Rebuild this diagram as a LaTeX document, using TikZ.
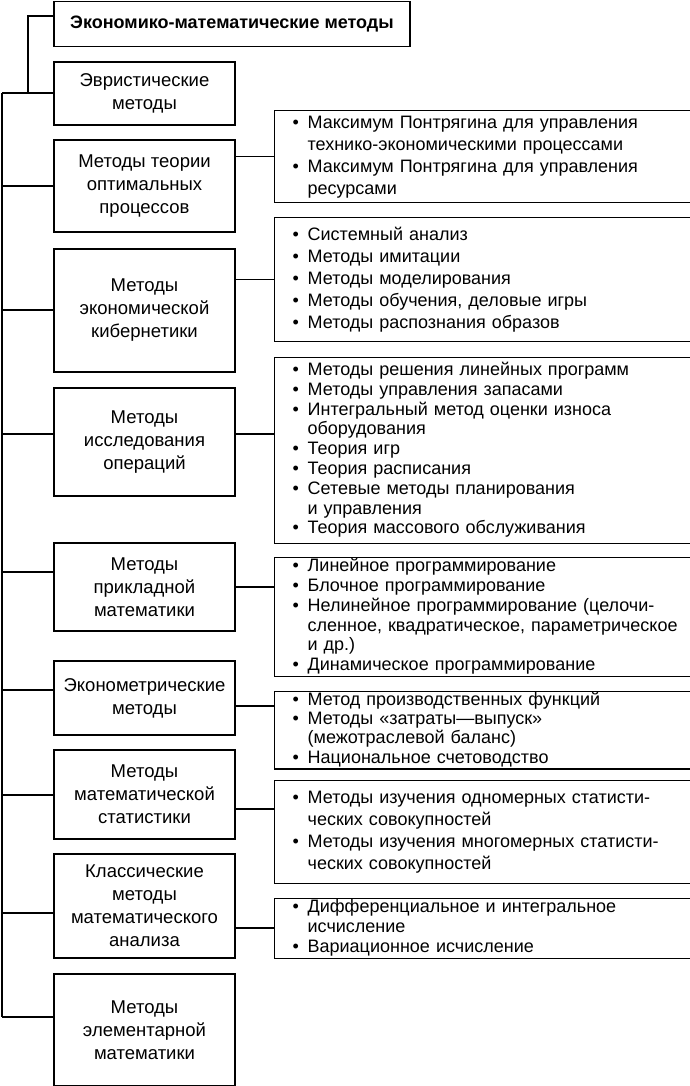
\documentclass[tikz,border=0pt]{standalone}
\usepackage{fontspec}
\setmainfont{Liberation Sans}
\usepackage{array}
\usetikzlibrary{positioning}
\tikzset {
    method/.style = {
        draw,
        line width=1.3pt,
        align=center,
        inner sep=0pt,
        minimum width=181pt,
        font=\fontsize{18.5}{23}\selectfont
    },
    list/.style = {
        draw,
        line width=1.3pt,
        anchor=north west,
        align=left,
        inner xsep=11pt,
        inner ysep=0pt,
        text width=394pt
    },
    every path/.style = {
        line width=1.3pt
    }
}
% bullet list: one row per line, continuation rows start with &
\newenvironment{blist}{\begin{tabular}{@{}>{\centering}p{20pt}@{\hspace{2pt}}l@{}}}{\end{tabular}}
\newcommand{\bul}{\textbullet}

\begin{document}
\begin{tikzpicture}[x=1pt, y=-1pt, font=\fontsize{18}{22}\selectfont]
        \useasboundingbox (0,0) rectangle (690,1086);

        % Title
        \node [method, minimum width=356pt, minimum height=45pt, font=\fontsize{18}{22}\selectfont\bfseries] at (232,24) (title) {Экономико-математические методы};

        % Left column : methods
        \node [method, minimum height=63pt]  at (144.5,93.5)  (b1) {Эвристические\\методы};
        \node [method, minimum height=92pt]  at (144.5,186)   (b2) {Методы теории\\оптимальных\\процессов};
        \node [method, minimum height=123pt] at (144.5,310.5) (b3) {Методы\\экономической\\кибернетики};
        \node [method, minimum height=108pt] at (144.5,442)   (b4) {Методы\\исследования\\операций};
        \node [method, minimum height=88pt]  at (144.5,587)   (b5) {Методы\\прикладной\\математики};
        \node [method, minimum height=74pt]  at (144.5,698)   (b6) {Эконометрические\\методы};
        \node [method, minimum height=89pt]  at (144.5,794.5) (b7) {Методы\\математической\\статистики};
        \node [method, minimum height=104pt] at (144.5,906)   (b8) {Классические\\методы\\математического\\анализа};
        \node [method, minimum height=112pt] at (144.5,1030)  (b9) {Методы\\элементарной\\математики};

        % Right column : lists
        \node [list, minimum height=92pt]  at (274,110) (r1) {\begin{blist}
            \bul & Максимум Понтрягина для управления\\
                 & технико-экономическими процессами\\
            \bul & Максимум Понтрягина для управления\\
                 & ресурсами
        \end{blist}};
        \node [list, minimum height=124pt] at (274,217) (r2) {\begin{blist}
            \bul & Системный анализ\\
            \bul & Методы имитации\\
            \bul & Методы моделирования\\
            \bul & Методы обучения, деловые игры\\
            \bul & Методы распознания образов
        \end{blist}};
        \node [list, minimum height=186pt] at (274,357) (r3) {\renewcommand{\arraystretch}{0.9}\begin{blist}
            \bul & Методы решения линейных программ\\
            \bul & Методы управления запасами\\
            \bul & Интегральный метод оценки износа\\
                 & оборудования\\
            \bul & Теория игр\\
            \bul & Теория расписания\\
            \bul & Сетевые методы планирования\\
                 & и управления\\
            \bul & Теория массового обслуживания
        \end{blist}};
        \node [list, minimum height=119pt] at (274,557) (r4) {\renewcommand{\arraystretch}{0.9}\begin{blist}
            \bul & Линейное программирование\\
            \bul & Блочное программирование\\
            \bul & Нелинейное программирование (целочи-\\
                 & сленное, квадратическое, параметрическое\\
                 & и др.)\\
            \bul & Динамическое программирование
        \end{blist}};
        \node [list, minimum height=74pt]  at (274,691) (r5) {\renewcommand{\arraystretch}{0.88}\begin{blist}
            \bul & Метод производственных функций\\
            \bul & Методы «затраты—выпуск»\\
                 & (межотраслевой баланс)\\
            \bul & Национальное счетоводство
        \end{blist}};
        \node [list, minimum height=103pt] at (274,780) (r6) {\begin{blist}
            \bul & Методы изучения одномерных статисти-\\
                 & ческих совокупностей\\
            \bul & Методы изучения многомерных статисти-\\
                 & ческих совокупностей
        \end{blist}};
        \node [list, minimum height=60pt]  at (274,898) (r7) {\renewcommand{\arraystretch}{0.9}\begin{blist}
            \bul & Дифференциальное и интегральное\\
                 & исчисление\\
            \bul & Вариационное исчисление
        \end{blist}};

        % Trunk
        \coordinate (top)    at (28,16);
        \coordinate (trunk0) at (2,93);
        \coordinate (trunk1) at (2,1017);
        \draw (title.west |- top) -- (top) -- (top |- trunk0);
        \draw (trunk0) -- (trunk1);

        % Branches to the methods
        \draw (trunk0)       -- (b1.west |- trunk0);
        \draw (2,186)        -- (b2.west |- 0,186);
        \draw (2,310)        -- (b3.west |- 0,310);
        \draw (2,434)        -- (b4.west |- 0,434);
        \draw (2,572)        -- (b5.west |- 0,572);
        \draw (2,690)        -- (b6.west |- 0,690);
        \draw (2,795)        -- (b7.west |- 0,795);
        \draw (2,913)        -- (b8.west |- 0,913);
        \draw (trunk1)       -- (b9.west |- trunk1);

        % Methods to lists
        \draw (b2.east |- r1.west) -- (r1.west);
        \draw (b3.east |- r2.west) -- (r2.west);
        \draw (b4.east |- 0,434)   -- (r3.west |- 0,434);
        \draw (b5.east |- 0,587)   -- (r4.west |- 0,587);
        \draw (b6.east |- 0,706)   -- (r5.west |- 0,706);
        \draw (b7.east |- 0,809)   -- (r6.west |- 0,809);
        \draw (b8.east |- 0,928)   -- (r7.west |- 0,928);
    \end{tikzpicture}
\end{document}
